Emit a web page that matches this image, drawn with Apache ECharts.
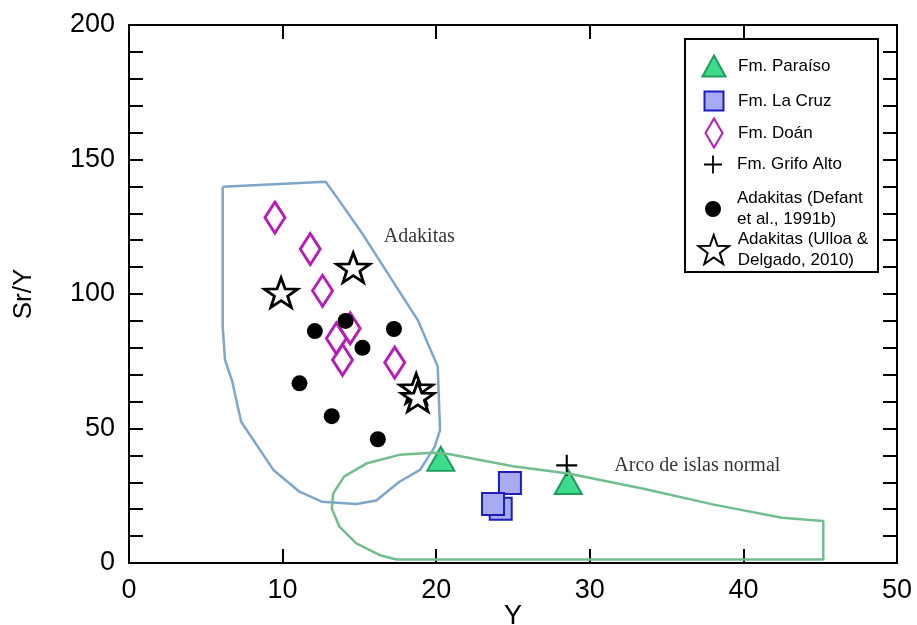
<!DOCTYPE html>
<html>
<head>
<meta charset="utf-8">
<script src="https://cdn.jsdelivr.net/npm/echarts@6/dist/echarts.min.js"></script>
<style>
  html, body { margin: 0; padding: 0; background: #fff; }
  #chart { width: 917px; height: 625px; }
</style>
</head>
<body>
<div id="chart"></div>
<script>
// Sr/Y vs Y diagram
const xRange = [0, 50];
const yRange = [0, 200];
const xLabelTicks = [0, 10, 20, 30, 40, 50];
const yLabelTicks = [0, 50, 100, 150, 200];

// campos (polígonos)
const adakitaField = [
  [6.1, 139.9], [12.8, 141.7], [13.5, 136.2], [15.25, 121.9], [18.8, 90.3],
  [20.1, 73.0], [20.25, 49.4], [19.9, 43.2], [18.95, 34.6], [17.6, 30.2],
  [16.1, 23.2], [14.8, 21.9], [12.55, 22.8], [11.1, 26.5], [9.4, 34.6],
  [7.3, 52.5], [6.7, 68.0], [6.25, 75.5], [6.1, 87.8], [6.1, 139.9]
];
const arcField = [
  [17.6, 40.2], [19.8, 41.0], [20.8, 40.5], [25.0, 36.0], [28.6, 33.3],
  [33.5, 27.6], [38.0, 21.8], [42.5, 16.8], [45.2, 15.6], [45.2, 1.3],
  [17.4, 1.3], [16.3, 3.0], [14.8, 7.3], [13.7, 13.5], [13.2, 20.3],
  [13.3, 25.9], [14.0, 32.1], [15.5, 37.1], [17.6, 40.2]
];

// muestras
const paraiso = [[20.3, 38.7], [28.6, 30.1]];
const laCruz = [[24.2, 20.2], [24.8, 29.7], [23.7, 21.9]];
const doan = [[9.5, 128.4], [11.8, 116.7], [12.6, 101.2], [14.4, 87.2], [13.5, 83.5], [13.9, 75.5], [17.3, 74.5]];
const grifoAlto = [[28.5, 36.3]];
const defant = [[12.1, 86.2], [14.1, 90.0], [15.2, 80.0], [17.25, 87.0], [11.1, 66.8], [13.2, 54.6], [16.2, 46.0]];
const ulloa = [[9.9, 100.5], [14.6, 109.8], [18.7, 64.9], [18.8, 61.8]];

const fieldNames = ["Adakitas", "Arco de islas normal"];
const fieldNamePos = [[18.9, 121.2], [37.0, 36.1]];

const STAR = "path://M10,0 L12.351,6.764 L19.511,6.910 L13.804,11.236 L15.878,18.090 L10,14 L4.122,18.090 L6.196,11.236 L0.489,6.910 L7.649,6.764 Z";
const PLUS = "path://M9,0 H11 V9 H20 V11 H11 V20 H9 V11 H0 V9 H9 Z";

const SANS = "Liberation Sans, Arial, sans-serif";
const SERIF = "Liberation Serif, Times New Roman, serif";

const chart = echarts.init(document.getElementById("chart"));

function axisBase() {
  return {
    type: "value",
    axisLine: { show: true, onZero: false, lineStyle: { color: "#000", width: 2 } },
    axisTick: { show: true, inside: true, length: 14, lineStyle: { color: "#000", width: 2 } },
    splitLine: { show: false }
  };
}

// legend rows: one legend per item so each can sit where the original does
const legendRows = [
  { name: "Fm. Paraíso", cy: 65, w: 23, h: 21 },
  { name: "Fm. La Cruz", cy: 100, w: 19, h: 19 },
  { name: "Fm. Doán", cy: 132, w: 17, h: 29 },
  { name: "Fm. Grifo Alto", cy: 163, w: 18, h: 18 },
  { name: "Adakitas (Defant\net al., 1991b)", cy: 196, w: 16, h: 16 },
  { name: "Adakitas (Ulloa &\nDelgado, 2010)", cy: 243, w: 31, h: 29 }
];
const legends = legendRows.map(function (r) {
  return {
    data: [r.name],
    orient: "vertical",
    left: 713 - r.w / 2,
    top: r.cy - r.h / 2,
    itemWidth: r.w,
    itemHeight: r.h,
    padding: 0,
    selectedMode: false,
    textStyle: {
      fontFamily: SANS, fontSize: 17, color: "#000", lineHeight: 21,
      padding: [0, 0, 0, 19 - r.w / 2]
    }
  };
});

chart.setOption({
  animation: false,
  backgroundColor: "#fff",
  grid: { left: 129, right: 20, top: 25, bottom: 62, outerBoundsMode: "none", containLabel: false },
  legend: legends,
  graphic: [{
    type: "rect",
    shape: { x: 685, y: 39, width: 193, height: 233 },
    style: { fill: "#fff", stroke: "#000", lineWidth: 2 },
    z: 3
  }],
  xAxis: [
    Object.assign(axisBase(), {
      min: xRange[0], max: xRange[1], interval: 10,
      name: "Y", nameLocation: "middle", nameGap: 40, nameMoveOverlap: false,
      nameTextStyle: { fontFamily: SANS, fontSize: 27, color: "#000" },
      axisLabel: {
        fontFamily: SANS, fontSize: 27, color: "#000", margin: 14,
        formatter: function (v) { return xLabelTicks.indexOf(v) >= 0 ? String(v) : ""; }
      }
    }),
    Object.assign(axisBase(), {
      min: xRange[0], max: xRange[1], interval: 10, position: "top",
      axisLabel: { show: false }
    })
  ],
  yAxis: [
    Object.assign(axisBase(), {
      min: yRange[0], max: yRange[1], interval: 10,
      name: "Sr/Y", nameLocation: "middle", nameGap: 92, nameMoveOverlap: false,
      nameTextStyle: { fontFamily: SANS, fontSize: 26, color: "#000" },
      axisLabel: {
        fontFamily: SANS, fontSize: 27, color: "#000", margin: 14,
        formatter: function (v) { return yLabelTicks.indexOf(v) >= 0 ? String(v) : ""; }
      }
    }),
    Object.assign(axisBase(), {
      min: yRange[0], max: yRange[1], interval: 10, position: "right",
      axisLabel: { show: false }
    })
  ],
  series: [
    {
      name: "campo adakitas", type: "line", data: adakitaField, showSymbol: false, silent: true,
      lineStyle: { color: "#7ea6ca", width: 2.5 }
    },
    {
      name: "campo arco", type: "line", data: arcField, showSymbol: false, silent: true,
      lineStyle: { color: "#72bd8e", width: 2.5 }
    },
    {
      name: "etiquetas", type: "scatter", symbolSize: 0, silent: true,
      data: fieldNamePos.map(function (p, i) { return { value: p, name: fieldNames[i] }; }),
      label: {
        show: true, position: "inside", formatter: "{b}",
        fontFamily: SERIF, fontSize: 20, color: "#000"
      }
    },
    {
      name: "Fm. Paraíso", type: "scatter", data: paraiso, symbol: "triangle", symbolSize: [27, 24],
      itemStyle: { color: "#3ddc8c", borderColor: "#1f9c5c", borderWidth: 2, opacity: 1 }
    },
    {
      name: "Fm. La Cruz", type: "scatter", data: laCruz, symbol: "rect", symbolSize: 22,
      itemStyle: { color: "#a9abf2", borderColor: "#1d1dbb", borderWidth: 2, opacity: 1 }
    },
    {
      name: "Fm. Doán", type: "scatter", data: doan, symbol: "diamond", symbolSize: [20, 31],
      itemStyle: { color: "rgba(255,255,255,0)", borderColor: "#b81cb8", borderWidth: 3, opacity: 1 }
    },
    {
      name: "Fm. Grifo Alto", type: "scatter", data: grifoAlto, symbol: PLUS, symbolSize: 21,
      itemStyle: { color: "#000", opacity: 1 }
    },
    {
      name: "Adakitas (Defant\net al., 1991b)", type: "scatter", data: defant, symbol: "circle", symbolSize: 16,
      itemStyle: { color: "#000", opacity: 1 }
    },
    {
      name: "Adakitas (Ulloa &\nDelgado, 2010)", type: "scatter", data: ulloa, symbol: STAR,
      symbolSize: [33, 31], symbolKeepAspect: true,
      itemStyle: { color: "#fff", borderColor: "#000", borderWidth: 2.8, opacity: 1 }
    }
  ]
});
</script>
</body>
</html>
